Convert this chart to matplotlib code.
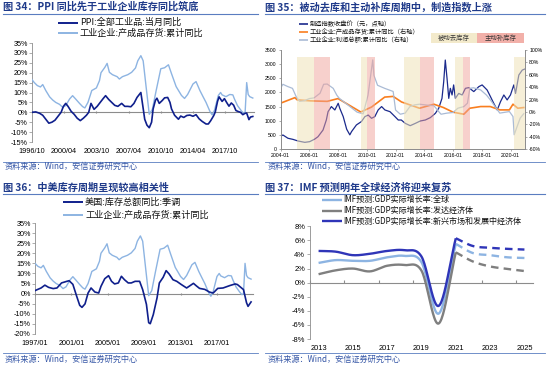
import numpy as np
import pandas as pd
import matplotlib
matplotlib.use('Agg')
import matplotlib.pyplot as plt
from matplotlib.lines import Line2D
from matplotlib.patches import Rectangle

plt.rcParams['font.family'] = ['Noto Sans CJK SC', 'DejaVu Sans']
LAT = 'Liberation Sans'

# ---------------- data ----------------
# Chart 34 / 36 : PPI and industrial finished-goods inventory (YoY, %)
ppi_dates = ["1996-10", "1997-03", "1997-08", "1997-12", "1998-04", "1998-08", "1998-12", "1999-04",
             "1999-08", "1999-12", "2000-03", "2000-06", "2000-09", "2001-01", "2001-05", "2001-09",
             "2002-01", "2002-05", "2002-09", "2002-12", "2003-03", "2003-07", "2003-11", "2004-03",
             "2004-07", "2004-10", "2005-02", "2005-06", "2005-10", "2006-02", "2006-07", "2006-11",
             "2007-03", "2007-07", "2007-11", "2008-03", "2008-08", "2008-11", "2009-01", "2009-04",
             "2009-07", "2009-10", "2009-12", "2010-03", "2010-05", "2010-08", "2010-12", "2011-03",
             "2011-07", "2011-10", "2011-12", "2012-04", "2012-09", "2012-12", "2013-04", "2013-08",
             "2013-12", "2014-04", "2014-08", "2014-12", "2015-04", "2015-09", "2015-12", "2016-03",
             "2016-07", "2016-09", "2016-12", "2017-02", "2017-06", "2017-09", "2017-12", "2018-03",
             "2018-06", "2018-09", "2018-12", "2019-03", "2019-06", "2019-09", "2019-12", "2020-02",
             "2020-05", "2020-07", "2020-10"]
ppi_vals = [0.0, 0.2, -0.5, -1.5, -3.5, -5.5, -5.0, -4.0,
            -2.0, 0.0, 3.0, 4.5, 3.0, 0.5, -1.0, -3.0,
            -4.2, -3.0, -1.5, 0.0, 4.5, 1.5, 3.0, 5.0,
            7.0, 8.4, 6.5, 5.0, 3.5, 3.0, 4.5, 3.0,
            3.0, 2.8, 4.5, 7.5, 10.0, 2.0, -3.5, -6.5,
            -7.8, -5.0, 1.7, 6.0, 7.1, 4.5, 6.0, 7.3,
            7.5, 5.0, 1.7, -1.5, -3.5, -1.9, -2.6, -1.6,
            -1.4, -2.0, -1.2, -3.3, -4.6, -5.9, -5.9, -4.3,
            -1.7, 0.1, 5.5, 7.8, 5.5, 6.9, 4.9, 3.1,
            4.7, 3.6, 0.9, 0.4, 0.0, -1.2, -0.5, -0.4,
            -3.7, -2.4, -2.1]

inv_dates = ["1996-10", "1997-01", "1997-05", "1997-09", "1997-12", "1998-04", "1998-09", "1999-01",
             "1999-05", "1999-10", "2000-02", "2000-06", "2000-11", "2001-03", "2001-07", "2001-12",
             "2002-04", "2002-07", "2002-11", "2003-04", "2003-10", "2004-02", "2004-04", "2004-09",
             "2004-12", "2005-03", "2005-07", "2006-01", "2006-04", "2006-08", "2007-03", "2007-08",
             "2008-01", "2008-04", "2008-08", "2008-11", "2009-03", "2009-07", "2009-11", "2010-04",
             "2010-10", "2011-03", "2011-08", "2011-12", "2012-06", "2013-01", "2013-05", "2013-09",
             "2014-04", "2014-08", "2015-01", "2015-05", "2015-09", "2016-02", "2016-05", "2016-08",
             "2017-01", "2017-04", "2017-06", "2017-11", "2018-04", "2018-08", "2018-10", "2019-02",
             "2019-07", "2019-10", "2019-12", "2020-02", "2020-04", "2020-06", "2020-10"]
inv_vals = [16.5, 15.0, 13.5, 12.8, 14.0, 11.0, 7.8, 6.2,
            5.0, 4.0, 2.5, 3.4, 6.7, 8.4, 6.7, 4.5,
            2.9, 2.2, 5.0, 11.0, 12.3, 16.0, 20.0, 22.7,
            24.7, 20.2, 19.0, 18.0, 16.8, 18.0, 19.0, 20.2,
            22.4, 26.0, 28.6, 26.0, 12.5, -1.0, 1.5, 11.0,
            22.0, 22.5, 24.0, 19.5, 13.0, 8.5, 7.0, 9.0,
            14.3, 15.5, 11.0, 8.0, 5.0, 0.5, -1.3, 1.0,
            8.5, 10.0, 8.8, 7.9, 9.0, 8.8, 6.8, 3.4,
            0.8, -0.5, 0.0, 15.0, 9.0, 7.9, 7.2]

us_dates = ["1997-01", "1997-09", "1998-02", "1998-07", "1999-01", "1999-06", "1999-12", "2000-07",
            "2000-10", "2001-03", "2001-08", "2001-12", "2002-03", "2002-07", "2002-11", "2003-03",
            "2003-08", "2004-01", "2004-04", "2004-09", "2005-02", "2005-06", "2005-10", "2006-03",
            "2006-07", "2006-11", "2007-04", "2007-08", "2008-01", "2008-07", "2008-11", "2009-04",
            "2009-07", "2009-09", "2010-01", "2010-06", "2010-09", "2011-02", "2011-06", "2011-10",
            "2012-03", "2012-08", "2013-02", "2013-09", "2014-06", "2014-10", "2015-02", "2015-09",
            "2016-03", "2016-08", "2017-02", "2017-09", "2018-06", "2019-01", "2019-04", "2019-12",
            "2020-04", "2020-06", "2020-10"]
us_vals = [1.5, 2.8, 4.2, 3.1, 2.5, 2.8, 5.3, 6.1,
           6.4, 4.6, -1.3, -5.8, -6.8, -5.1, 0.3, 2.8,
           0.8, 0.3, 3.6, 7.4, 8.9, 6.1, 4.8, 5.3,
           8.6, 6.9, 5.3, 5.3, 6.1, 6.1, 2.0, -5.3,
           -14.4, -14.9, -10.4, -2.1, 5.3, 8.1, 11.4, 9.7,
           6.9, 6.1, 4.5, 2.8, 5.1, 3.8, 2.6, 2.1,
           0.8, 0.3, 2.6, 2.8, 4.0, 4.8, 4.5, 2.0,
           -4.5, -6.3, -4.1]

# Chart 35 : manufacturing index (left axis) and two YoY series (right axis)
idx_dates = ["2004-01-02", "2004-03-03", "2004-07-08", "2004-11-14", "2005-03-22", "2005-09-10",
             "2006-01-12", "2006-05-19", "2006-08-11", "2006-12-16", "2007-03-10", "2007-04-23",
             "2007-07-16", "2007-10-12", "2008-01-05", "2008-02-14", "2008-05-12", "2008-08-08",
             "2008-10-27", "2008-12-10", "2009-04-12", "2009-08-18", "2009-11-14", "2010-02-06",
             "2010-05-01", "2010-07-24", "2010-10-16", "2011-01-12", "2011-04-06", "2011-08-12",
             "2011-12-17", "2012-03-10", "2012-05-26", "2012-09-06", "2013-01-08", "2013-05-16",
             "2013-09-20", "2014-01-26", "2014-06-03", "2014-10-08", "2015-01-01", "2015-03-25",
             "2015-05-08", "2015-06-17", "2015-07-31", "2015-09-13", "2015-10-23", "2015-12-06",
             "2016-01-15", "2016-02-28", "2016-05-22", "2016-08-18", "2016-11-10", "2017-02-02",
             "2017-06-10", "2017-10-16", "2018-01-08", "2018-05-15", "2018-08-08", "2018-10-30",
             "2019-01-26", "2019-04-20", "2019-07-13", "2019-10-05", "2019-12-28", "2020-03-22",
             "2020-05-05", "2020-07-28", "2020-10-23", "2020-12-31"]
idx_vals = [450, 495, 380, 340, 283, 235,
            260, 350, 435, 670, 1025, 1320,
            1500, 1380, 1615, 1440, 1145, 700,
            500, 615, 850, 970, 1145, 1200,
            1085, 1145, 1380, 1500, 1380, 1320,
            1145, 1025, 1025, 905, 825, 905,
            990, 1025, 1110, 1260, 1440, 1790,
            2380, 3145, 2500, 1790, 2145, 1910,
            2265, 1790, 1965, 1910, 2145, 2170,
            2030, 2205, 2265, 2085, 1850, 1615,
            1380, 1675, 1910, 1735, 1910, 2265,
            1965, 2615, 2790, 2830]

fg_dates = ["2004-01", "2005-01", "2005-03", "2006-02", "2007-04", "2008-01", "2009-08", "2010-05",
            "2011-04", "2011-11", "2012-06", "2013-01", "2013-09", "2014-09", "2015-05", "2016-01",
            "2016-10", "2017-03", "2017-12", "2018-08", "2019-04", "2019-12", "2020-03", "2020-07",
            "2020-12"]
fg_vals = [14.0, 23.0, 19.4, 17.8, 17.0, 21.5, -0.2, 7.8,
           23.9, 25.0, 16.0, 11.3, 5.9, 12.4, 7.0, -0.5,
           -3.8, 5.9, 8.6, 8.6, 3.2, 3.2, 12.4, 5.9,
           7.0]

profit_dates = ["2004-01", "2004-03", "2004-07", "2004-11", "2005-02", "2005-05", "2005-09", "2006-01",
                "2006-05", "2006-10", "2007-01", "2007-04", "2007-09", "2007-12", "2008-02", "2009-05",
                "2009-10", "2010-02", "2010-06", "2010-07", "2010-10", "2011-04", "2011-11", "2012-01",
                "2012-05", "2012-09", "2013-01", "2013-05", "2013-09", "2014-03", "2014-09", "2015-01",
                "2015-03", "2015-08", "2016-01", "2016-05", "2016-10", "2017-01", "2017-03", "2017-06",
                "2017-12", "2018-05", "2018-09", "2019-01", "2019-04", "2019-12", "2020-03", "2020-04",
                "2020-06", "2020-09", "2020-12"]
profit_vals = [38.0, 44.6, 41.0, 38.0, 24.8, 17.0, 18.0, 21.5,
               22.6, 30.0, 44.6, 45.0, 38.0, 27.0, 22.0, -0.5,
               -3.2, 27.0, 84.0, 59.0, 43.0, 38.0, 33.0, 3.0,
               -3.8, -2.0, 8.6, 11.3, 12.4, 11.0, 10.0, 0.5,
               -3.8, -2.0, -1.0, 5.9, 8.6, 14.0, 38.0, 39.0,
               35.5, 27.0, 17.0, 5.9, -2.0, 0.5, -7.5, -37.0,
               -26.0, -10.0, -3.0]

passive_destock = [("2005-03", "2006-05"), ("2009-08", "2010-01"), ("2012-08", "2013-09"),
                   ("2016-03", "2016-09"), ("2020-04", "2020-12-31")]
active_restock = [("2006-05", "2007-06"), ("2010-01", "2010-08"), ("2013-09", "2014-09"),
                  ("2016-09", "2017-03")]

# Chart 37 : IMF real GDP growth (%)
imf_years = [2013, 2014, 2015, 2016, 2017, 2018, 2019, 2020, 2021]
gdp_world = [2.8, 3.2, 3.1, 3.1, 3.6, 3.8, 2.9, -4.4, 5.5]
gdp_adv = [1.2, 1.75, 2.0, 1.6, 2.4, 2.5, 1.7, -5.8, 4.3]
gdp_emde = [4.5, 4.4, 3.9, 4.1, 4.5, 4.6, 3.7, -3.3, 6.3]
fc_years = [2021, 2022, 2023, 2024, 2025]
fc_world = [5.5, 4.2, 3.9, 3.6, 3.5]
fc_adv = [4.3, 3.0, 2.3, 1.95, 1.65]
fc_emde = [6.3, 5.2, 4.95, 4.8, 4.7]

# ---------------- helpers ----------------
W, H = 550, 368


def dy(s):
    t = pd.Timestamp(s)
    n = 366 if t.is_leap_year else 365
    return t.year + (t.dayofyear - 1) / n


def dys(lst):
    return np.array([dy(s) for s in lst])


def rect(x0, y0, x1, y1):
    return [x0 / W, 1 - y1 / H, (x1 - x0) / W, (y1 - y0) / H]


def fy(y):
    return 1 - y / H


def smooth(x, y, n=24):
    P = np.column_stack([np.asarray(x, float), np.asarray(y, float)])
    P = np.vstack([2 * P[0] - P[1], P, 2 * P[-1] - P[-2]])
    out = []
    t = np.linspace(0, 1, n, endpoint=False)[:, None]
    for i in range(1, len(P) - 2):
        p0, p1, p2, p3 = P[i - 1], P[i], P[i + 1], P[i + 2]
        pts = 0.5 * ((2 * p1) + (-p0 + p2) * t + (2 * p0 - 5 * p1 + 4 * p2 - p3) * t ** 2
                     + (-p0 + 3 * p1 - 3 * p2 + p3) * t ** 3)
        out.append(pts)
    out.append(P[-2][None, :])
    a = np.vstack(out)
    return a[:, 0], a[:, 1]


def legend_rows(x0, x1, xt, rows, fontsize, lw=1.2):
    """rows: list of (y_pixel, color, text, linestyle)"""
    for y, c, s in rows:
        fig.add_artist(Line2D([x0 / W, x1 / W], [fy(y), fy(y)], color=c, lw=lw,
                              solid_capstyle='butt'))
        fig.text(xt / W, fy(y), s, fontsize=fontsize, va='center', ha='left', color='#111111')


GRAY = '#8C8C8C'
TITLE_C = '#1F3A8A'
LINE_C = '#5A7DC0'
SRC_C = '#3556A6'
NAVY = '#0F1F8C'
LIGHT = '#8DB4E2'
ORANGE = '#F97E1F'
PGRAY = '#AABBD5'
IDX_C = '#1B2A8C'
GDP_GRAY = '#7F7F7F'
GDP_BLUE = '#2F35B8'

fig = plt.figure(figsize=(5.5, 3.68), dpi=100)

# ---------------- titles / frames ----------------
titles = [(3, 7, "图 34：PPI 同比先于工业企业库存同比筑底"),
          (265, 7, "图 35：被动去库和主动补库周期中，制造指数上涨"),
          (3, 187.5, "图 36：中美库存周期呈现较高相关性"),
          (265, 187.5, "图 37：IMF 预测明年全球经济将迎来复苏")]
for x, y, s in titles:
    fig.text(x / W, fy(y), s, fontsize=7.3, fontweight='bold', color=TITLE_C, va='center', ha='left')
for x0, x1 in [(3, 258), (265, 545)]:
    for y in (14, 194):
        fig.add_artist(Line2D([x0 / W, x1 / W], [fy(y), fy(y)], color=LINE_C, lw=0.8))
    for y in (162, 352.5):
        fig.add_artist(Line2D([x0 / W, x1 / W], [fy(y), fy(y)], color=LINE_C, lw=0.6))
for x, y in [(5, 166.5), (268, 166.5), (5, 359.5), (268, 359.5)]:
    fig.text(x / W, fy(y), "资料来源：Wind，安信证券研究中心", fontsize=5.9, style='italic',
             color=SRC_C, va='center', ha='left')


def pct_axis(ax, ylo, yhi, xlo, xhi, ticks, labels, lsize=5.2):
    ax.set_xlim(xlo, xhi)
    ax.set_ylim(ylo, yhi)
    yt = list(range(ylo, yhi + 1, 5))
    ax.set_yticks(yt)
    ax.set_yticklabels([f"{v}%" for v in yt])
    for sp in ('top', 'right'):
        ax.spines[sp].set_visible(False)
    ax.spines['left'].set_color(GRAY)
    ax.spines['left'].set_linewidth(0.6)
    ax.spines['bottom'].set_position(('data', 0))
    ax.spines['bottom'].set_color(GRAY)
    ax.spines['bottom'].set_linewidth(0.8)
    ax.set_xticks(ticks)
    ax.tick_params(axis='x', length=2, direction='inout', color=GRAY, labelbottom=False)
    ax.tick_params(axis='y', length=2, width=0.5, color=GRAY, pad=1, labelsize=lsize,
                   labelfontfamily=LAT)
    sec = ax.secondary_xaxis(0.0)
    sec.set_xticks(ticks)
    sec.set_xticklabels(labels)
    sec.tick_params(length=0, pad=4, labelsize=lsize, labelfontfamily=LAT)
    sec.spines['bottom'].set_visible(False)


# ---------------- Chart 34 ----------------
ax1 = fig.add_axes(rect(32, 43, 254, 142))
ax1.plot(dys(inv_dates), inv_vals, color=LIGHT, lw=1.0, zorder=3)
ax1.plot(dys(ppi_dates), ppi_vals, color=NAVY, lw=1.2, zorder=4)
t34 = [1996.75 + 3.5 * k for k in range(7)]
lab34 = ["1996/10", "2000/04", "2003/10", "2007/04", "2010/10", "2014/04", "2017/10"]
pct_axis(ax1, -15, 35, 1996.75, 2020.88, t34, lab34)
legend_rows(58, 78, 80, [(22.7, NAVY, "PPI:全部工业品:当月同比"),
                         (33, LIGHT, "工业企业:产成品存货:累计同比")], 6.6, lw=1.4)

# ---------------- Chart 36 ----------------
ax3 = fig.add_axes(rect(35, 223, 253, 334))
ax3.plot(dys(inv_dates), inv_vals, color=LIGHT, lw=1.0, zorder=3)
ax3.plot(dys(us_dates), us_vals, color=NAVY, lw=1.2, zorder=4)
t36 = [1997.0 + 4 * k for k in range(6)]
lab36 = ["1997/01", "2001/01", "2005/01", "2009/01", "2013/01", "2017/01"]
pct_axis(ax3, -20, 35, 1997.0, 2020.96, t36, lab36)
legend_rows(63, 83, 85, [(202.3, NAVY, "美国:库存总额同比:季调"),
                         (215, LIGHT, "工业企业:产成品存货:累计同比")], 6.6, lw=1.4)

# ---------------- Chart 35 ----------------
ax2 = fig.add_axes(rect(280.5, 50, 525, 149))
ax2r = ax2.twinx()
ax2.plot(dys(idx_dates), idx_vals, color=IDX_C, lw=0.9)
ax2r.plot(dys(fg_dates), fg_vals, color=ORANGE, lw=1.2, zorder=2)
ax2r.plot(dys(profit_dates), profit_vals, color=PGRAY, lw=0.9, zorder=2)
for a, b in passive_destock:
    ax2r.axvspan(dy(a), dy(b), ymin=0, ymax=0.925, color='#EFE2B8', alpha=0.55, lw=0, zorder=3)
for a, b in active_restock:
    ax2r.axvspan(dy(a), dy(b), ymin=0, ymax=0.925, color='#F0A29A', alpha=0.5, lw=0, zorder=3)
ax2.set_xlim(2004.0, 2021.0)
ax2.set_ylim(0, 3500)
ax2.set_yticks(range(0, 3501, 500))
ax2r.set_ylim(-60, 100)
ax2r.set_yticks(range(-60, 101, 20))
ax2r.set_yticklabels([f"{v}%" for v in range(-60, 101, 20)])
t35 = list(range(2004, 2021, 2))
ax2.set_xticks(t35)
ax2.set_xticklabels([f"{y}-01" for y in t35])
for a in (ax2, ax2r):
    a.spines['top'].set_visible(False)
    for sp in ('left', 'right', 'bottom'):
        a.spines[sp].set_color(GRAY)
        a.spines[sp].set_linewidth(0.6)
ax2.tick_params(axis='both', length=1.5, width=0.5, color=GRAY, pad=1.5, labelsize=3.7,
                labelfontfamily=LAT)
ax2r.tick_params(axis='y', length=1.5, width=0.5, color=GRAY, pad=1.5, labelsize=3.7,
                 labelfontfamily=LAT)
legend_rows(299, 307.5, 310, [(24, IDX_C, "制造指数收盘价（元，点轴）"),
                              (32, ORANGE, "工业企业:产成品存货:累计同比（右轴）"),
                              (40, PGRAY, "工业企业:利润总额:累计同比（右轴）")], 4.5, lw=1.2)
for x0, x1, c, s in [(431, 477, '#F3EACB', '被动去库存'), (477, 524, '#F2B0A9', '主动补库存')]:
    fig.add_artist(Rectangle((x0 / W, fy(43)), (x1 - x0) / W, 10 / H, transform=fig.transFigure,
                             facecolor=c, edgecolor='none'))
    fig.text((x0 + x1) / 2 / W, fy(38), s, fontsize=4.6, ha='center', va='center', color='#333333')

# ---------------- Chart 37 ----------------
ax4 = fig.add_axes(rect(310, 226.3, 533, 339))
series = [(gdp_world, fc_world, LIGHT, "IMF预测:GDP实际增长率:全球"),
          (gdp_adv, fc_adv, GDP_GRAY, "IMF预测:GDP实际增长率:发达经济体"),
          (gdp_emde, fc_emde, GDP_BLUE, "IMF预测:GDP实际增长率:新兴市场和发展中经济体")]
for hist, fc, c, lab in series:
    xs, ys = smooth(imf_years, hist)
    ax4.plot(xs, ys, color=c, lw=1.7, zorder=3, solid_capstyle='butt')
    xs2, ys2 = smooth(fc_years, fc)
    ax4.plot(xs2, ys2, color=c, lw=1.7, ls=(0, (3.2, 2.2)), zorder=3)
ax4.set_xlim(2012.5, 2025.5)
ax4.set_ylim(-8, 8)
yt4 = list(range(-8, 9, 2))
ax4.set_yticks(yt4)
ax4.set_yticklabels([f"{v}%" for v in yt4])
for sp in ('top', 'right'):
    ax4.spines[sp].set_visible(False)
ax4.spines['left'].set_color(GRAY)
ax4.spines['left'].set_linewidth(0.6)
ax4.spines['bottom'].set_position(('data', 0))
ax4.spines['bottom'].set_color(GRAY)
ax4.spines['bottom'].set_linewidth(0.8)
ax4.set_xticks([2012.5 + 2 * k for k in range(7)])
ax4.tick_params(axis='x', length=2, direction='in', color=GRAY, labelbottom=False)
ax4.tick_params(axis='y', length=2, width=0.5, color=GRAY, pad=1.5, labelsize=5.4,
                labelfontfamily=LAT)
sec4 = ax4.secondary_xaxis(0.0)
yrs4 = list(range(2013, 2026, 2))
sec4.set_xticks(yrs4)
sec4.set_xticklabels([str(y) for y in yrs4])
sec4.tick_params(length=0, pad=4, labelsize=5.4, labelfontfamily=LAT)
sec4.spines['bottom'].set_visible(False)
legend_rows(321.7, 341.7, 343, [(199.7, LIGHT, series[0][3]),
                                (210.7, GDP_GRAY, series[1][3]),
                                (221.3, GDP_BLUE, series[2][3])], 5.8, lw=1.7)

fig.savefig('out.png', dpi=100)
